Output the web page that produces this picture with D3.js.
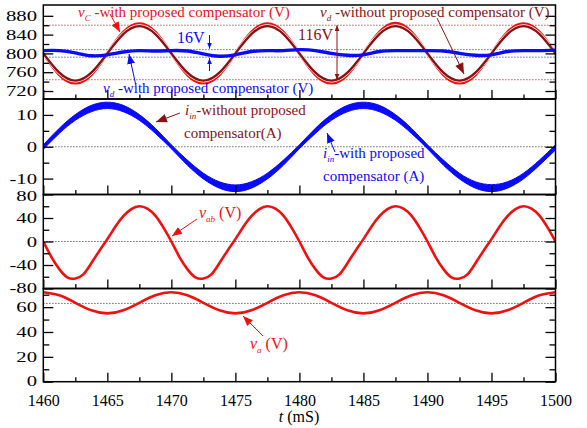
<!DOCTYPE html>
<html>
<head>
<meta charset="utf-8">
<script src="https://cdn.jsdelivr.net/npm/d3@7"></script>
<style>
  body { margin: 0; background: #fff; }
</style>
</head>
<body>
<div id="chart"></div>
<script>
// time axis (mS)
var timeMajor = [1460, 1465, 1470, 1475, 1480, 1485, 1490, 1495, 1500];
var timeMinor = [1462.5, 1467.5, 1472.5, 1477.5, 1482.5, 1487.5, 1492.5, 1497.5];
// sample instants, 1.25 mS and 0.625 mS apart
var tCoarse = d3.range(33).map(function(i){ return 1460 + i * 1.25; });
var tFine = d3.range(65).map(function(i){ return 1460 + i * 0.625; });

// panel 1 : dc link voltages (V)
var vcWith = [800, 755, 737, 755, 800, 845, 863, 845,
              800, 755, 737, 755, 800, 845, 863, 845,
              800, 755, 737, 755, 800, 845, 864, 845,
              800, 755, 737, 755, 800, 845, 863, 845, 800];
var vdWithout = [800, 759, 742, 759, 800, 841, 858, 841,
                 800, 759, 742, 759, 800, 841, 858, 841,
                 800, 759, 742, 759, 800, 841, 858, 841,
                 800, 759, 742, 759, 800, 841, 858, 841, 800];
var vdWith = [806, 806, 801, 795, 797, 803, 806, 805,
              806, 805, 799, 794, 797, 804, 806, 806,
              808, 806, 800, 796, 797, 804, 806, 806,
              806, 805, 800, 796, 797, 804, 806, 806, 807];
var vdWithoutLevels = [744, 860];
var vdWithLevels = [792, 808];

// panel 2 : input current band (A)
var iinUpper = [0.6, 5.8, 10.1, 13.0, 14.0, 13.0, 10.1, 5.8,
                0.6, -4.2, -8.3, -11.0, -12.0, -11.0, -8.3, -4.2,
                0.6, 5.8, 10.1, 13.0, 14.0, 13.0, 10.1, 5.8,
                0.6, -4.2, -8.3, -11.0, -11.9, -11.0, -8.3, -4.2, 0.6];
var iinLower = [-0.8, 4.2, 8.3, 11.0, 12.0, 11.0, 8.3, 4.2,
                -0.6, -5.8, -10.1, -13.0, -14.1, -13.0, -10.1, -5.8,
                -0.6, 4.2, 8.3, 11.0, 12.0, 11.0, 8.3, 4.2,
                -0.6, -5.8, -10.1, -13.0, -14.1, -13.0, -10.1, -5.8, -1.0];

// panel 3 : v_ab (V)
var vab = [0, -26, -47, -61, -63, -56, -37, -16, 4, 25, 43, 55, 60, 56, 44, 24,
           0, -26, -47, -61, -63, -56, -37, -16, 4, 25, 43, 55, 60, 56, 44, 24,
           0, -26, -47, -61, -63, -56, -37, -16, 4, 25, 43, 55, 60, 56, 44, 24,
           0, -26, -47, -61, -63, -56, -37, -16, 4, 25, 43, 55, 60, 56, 44, 24, 0];

// panel 4 : v_a (V)
var va = [72, 69.5, 63.5, 57.5, 55, 57.5, 63.5, 69.5,
          72, 69.5, 63.5, 57.5, 55, 57.5, 63.5, 69.5,
          72, 69.5, 63.5, 57.5, 55, 57.5, 63.5, 69.5,
          72, 69.5, 63.5, 57.5, 55, 57.5, 63.5, 69.5, 72];
var vaLevel = 63;

// y ticks per panel
var p1Major = [720, 760, 800, 840, 880], p1Minor = [740, 780, 820, 860];
var p2Major = [-10, 0, 10], p2Minor = [-5, 5];
var p3Major = [-80, -40, 0, 40, 80], p3Minor = [-60, -20, 20, 60];
var p4Major = [0, 20, 40, 60], p4Minor = [10, 30, 50, 70];

var serif = "'Liberation Serif', 'Times New Roman', serif";
var RED = "#f01010", DARK = "#8a1212", BLUE = "#0a0aff";

var svg = d3.select("#chart")
  .append("svg")
    .attr("width", 587)
    .attr("height", 428);

var x = d3.scaleLinear().domain([1460, 1500]).range([43.3, 555.5]);

var panels = [
  {domain: [703, 903], top: 5, bottom: 99, major: p1Major, minor: p1Minor},
  {domain: [-15, 15], top: 99, bottom: 194.5, major: p2Major, minor: p2Minor},
  {domain: [-80, 80], top: 194.5, bottom: 288.5, major: p3Major, minor: p3Minor},
  {domain: [0, 75], top: 288.5, bottom: 381.7, major: p4Major, minor: p4Minor}
];

var defs = svg.append("defs");
panels.forEach(function(p, i){
  p.y = d3.scaleLinear().domain(p.domain).range([p.bottom, p.top]);
  defs.append("clipPath").attr("id", "clip" + i)
    .append("rect")
      .attr("x", x.range()[0]).attr("y", p.top)
      .attr("width", x.range()[1] - x.range()[0])
      .attr("height", p.bottom - p.top);
});

// arrow heads
function marker(id, color, size) {
  defs.append("marker")
    .attr("id", id)
    .attr("viewBox", "0 0 10 10")
    .attr("refX", 10).attr("refY", 5)
    .attr("markerUnits", "userSpaceOnUse")
    .attr("markerWidth", size).attr("markerHeight", size)
    .attr("orient", "auto-start-reverse")
    .append("path")
      .attr("d", "M0,1 L10,5 L0,9 Z")
      .attr("fill", color);
}
marker("arRed", RED, 10);
marker("arDark", DARK, 11);
marker("arDarkS", DARK, 6);
marker("arBlue", BLUE, 10);
marker("arBlueS", BLUE, 6);

function lineOf(y, ts) {
  return d3.line()
    .x(function(d, i){ return x(ts[i]); })
    .y(function(d){ return y(d); })
    .curve(d3.curveNatural);
}

function hline(p, v, color) {
  svg.append("line")
    .attr("x1", x.range()[0]).attr("x2", x.range()[1])
    .attr("y1", p.y(v)).attr("y2", p.y(v))
    .attr("stroke", color)
    .attr("stroke-width", 1)
    .attr("stroke-dasharray", "1.2,1.8");
}

// reference levels
var P1 = panels[0], P2 = panels[1], P3 = panels[2], P4 = panels[3];
vdWithoutLevels.forEach(function(v){ hline(P1, v, "#a33"); });
vdWithLevels.forEach(function(v){ hline(P1, v, "#33f"); });
hline(P2, 0, "#444");
hline(P3, 0, "#444");
hline(P4, vaLevel, "#444");

// panel 1 curves
var g1 = svg.append("g").attr("clip-path", "url(#clip0)");
g1.append("path").datum(vcWith)
  .attr("d", lineOf(P1.y, tCoarse))
  .attr("fill", "none").attr("stroke", RED).attr("stroke-width", 3.2);
g1.append("path").datum(vdWithout)
  .attr("d", lineOf(P1.y, tCoarse))
  .attr("fill", "none").attr("stroke", "#fff").attr("stroke-width", 3.6);
g1.append("path").datum(vdWithout)
  .attr("d", lineOf(P1.y, tCoarse))
  .attr("fill", "none").attr("stroke", DARK).attr("stroke-width", 2.4);
g1.append("path").datum(vdWith)
  .attr("d", lineOf(P1.y, tCoarse))
  .attr("fill", "none").attr("stroke", BLUE).attr("stroke-width", 3.4);

// panel 2 band
var band = d3.area()
  .x(function(d, i){ return x(tCoarse[i]); })
  .y0(function(d, i){ return P2.y(iinLower[i]); })
  .y1(function(d, i){ return P2.y(iinUpper[i]); })
  .curve(d3.curveNatural);
svg.append("g").attr("clip-path", "url(#clip1)")
  .append("path").datum(iinUpper)
    .attr("d", band)
    .attr("fill", BLUE)
    .attr("stroke", BLUE).attr("stroke-width", 1);

// panel 3 and 4
svg.append("g").attr("clip-path", "url(#clip2)")
  .append("path").datum(vab)
    .attr("d", lineOf(P3.y, tFine))
    .attr("fill", "none").attr("stroke", RED).attr("stroke-width", 2.6);
svg.append("g").attr("clip-path", "url(#clip3)")
  .append("path").datum(va)
    .attr("d", lineOf(P4.y, tCoarse))
    .attr("fill", "none").attr("stroke", RED).attr("stroke-width", 2.6);

// axes
panels.forEach(function(p, i){
  function ticks(axis) {
    var g = svg.append("g").call(axis);
    g.select(".domain").remove();
    g.selectAll("line").attr("stroke", "#000").attr("stroke-width", 1.3);
    return g;
  }
  ticks(d3.axisLeft(p.y).tickValues(p.major).tickSize(-10).tickFormat(""))
    .attr("transform", "translate(" + x.range()[0] + ",0)");
  ticks(d3.axisLeft(p.y).tickValues(p.minor).tickSize(-6).tickFormat(""))
    .attr("transform", "translate(" + x.range()[0] + ",0)");
  ticks(d3.axisRight(p.y).tickValues(p.major).tickSize(-10).tickFormat(""))
    .attr("transform", "translate(" + x.range()[1] + ",0)");
  ticks(d3.axisRight(p.y).tickValues(p.minor).tickSize(-6).tickFormat(""))
    .attr("transform", "translate(" + x.range()[1] + ",0)");
  var xb = ticks(d3.axisBottom(x).tickValues(timeMajor).tickSize(-9).tickPadding(13)
      .tickFormat(i == 3 ? d3.format("d") : ""))
    .attr("transform", "translate(0," + p.bottom + ")");
  xb.selectAll("text").attr("font-family", serif).attr("font-size", 16).attr("fill", "#000");
  ticks(d3.axisBottom(x).tickValues(timeMinor).tickSize(-4.5).tickFormat(""))
    .attr("transform", "translate(0," + p.bottom + ")");

  // y labels, stretched sideways like the original
  svg.append("g").selectAll("text")
    .data(p.major)
    .enter()
    .append("text")
      .attr("transform", function(d){
        var yy = p.y(d);
        if (yy - p.top < 2) yy += 1;        // keep edge labels apart
        if (p.bottom - yy < 2) yy -= 1;
        return "translate(37," + yy + ") scale(1.38,1)";
      })
      .attr("dy", "0.35em")
      .attr("text-anchor", "end")
      .attr("font-family", serif)
      .attr("font-size", 15)
      .text(function(d){ return d; });

  svg.append("rect")
    .attr("x", x.range()[0]).attr("y", p.top)
    .attr("width", x.range()[1] - x.range()[0])
    .attr("height", p.bottom - p.top)
    .attr("fill", "none").attr("stroke", "#000").attr("stroke-width", 1.5);
});

// x axis title
var tt = svg.append("text")
  .attr("x", 299).attr("y", 422)
  .attr("text-anchor", "middle")
  .attr("font-family", serif).attr("font-size", 16);
tt.append("tspan").attr("font-style", "italic").text("t");
tt.append("tspan").text(" (mS)");

// annotations
function label(xp, yp, color, v, sub, rest, size) {
  var t = svg.append("text")
    .attr("x", xp).attr("y", yp)
    .attr("fill", color)
    .attr("font-family", serif)
    .attr("font-size", size || 15);
  t.append("tspan").attr("font-style", "italic").text(v);
  t.append("tspan").attr("font-style", "italic").attr("font-size", 9).attr("dy", 4).text(sub);
  t.append("tspan").attr("dy", -4).text(rest);
}
function plain(xp, yp, color, txt, size) {
  svg.append("text")
    .attr("x", xp).attr("y", yp)
    .attr("fill", color)
    .attr("font-family", serif)
    .attr("font-size", size || 15)
    .text(txt);
}
function arrow(x1, y1, x2, y2, color, mk, both) {
  var l = svg.append("line")
    .attr("x1", x1).attr("y1", y1).attr("x2", x2).attr("y2", y2)
    .attr("stroke", color).attr("stroke-width", 1)
    .attr("marker-end", "url(#" + mk + ")");
  if (both) l.attr("marker-start", "url(#" + mk + ")");
}

label(78, 17, RED, "v", "C", " -with proposed compensator (V)");
arrow(110, 14, 120, 32, RED, "arRed");

label(320, 17, DARK, "v", "d", " -without proposed compensator (V)");
arrow(437, 18, 464, 74, DARK, "arDark");

plain(298, 40, DARK, "116V", 16);
arrow(337, P1.y(vdWithoutLevels[1]), 337, P1.y(vdWithoutLevels[0]), DARK, "arDarkS", true);

plain(177, 43, BLUE, "16V", 16);
arrow(209.5, 35, 209.5, P1.y(vdWithLevels[1]) - 1, BLUE, "arBlueS");
arrow(209.5, 71, 209.5, P1.y(vdWithLevels[0]) + 1, BLUE, "arBlueS");

label(103, 93, BLUE, "v", "d", " -with proposed compensator (V)");
arrow(136, 86, 129, 54, BLUE, "arBlue");

label(185, 115, DARK, "i", "in", "-without proposed");
plain(184, 138, DARK, "compensator(A)");
arrow(180, 113, 156, 122, DARK, "arDark");

label(323, 158, BLUE, "i", "in", "-with proposed");
plain(323, 181, BLUE, "compensator (A)");
arrow(335, 152, 327, 133, BLUE, "arBlue");

label(199, 218, RED, "v", "ab", " (V)", 16);
arrow(197, 219, 172, 236, RED, "arRed");

label(250, 349, RED, "v", "a", " (V)", 16);
arrow(263, 336, 243, 316, RED, "arRed");
</script>
</body>
</html>
